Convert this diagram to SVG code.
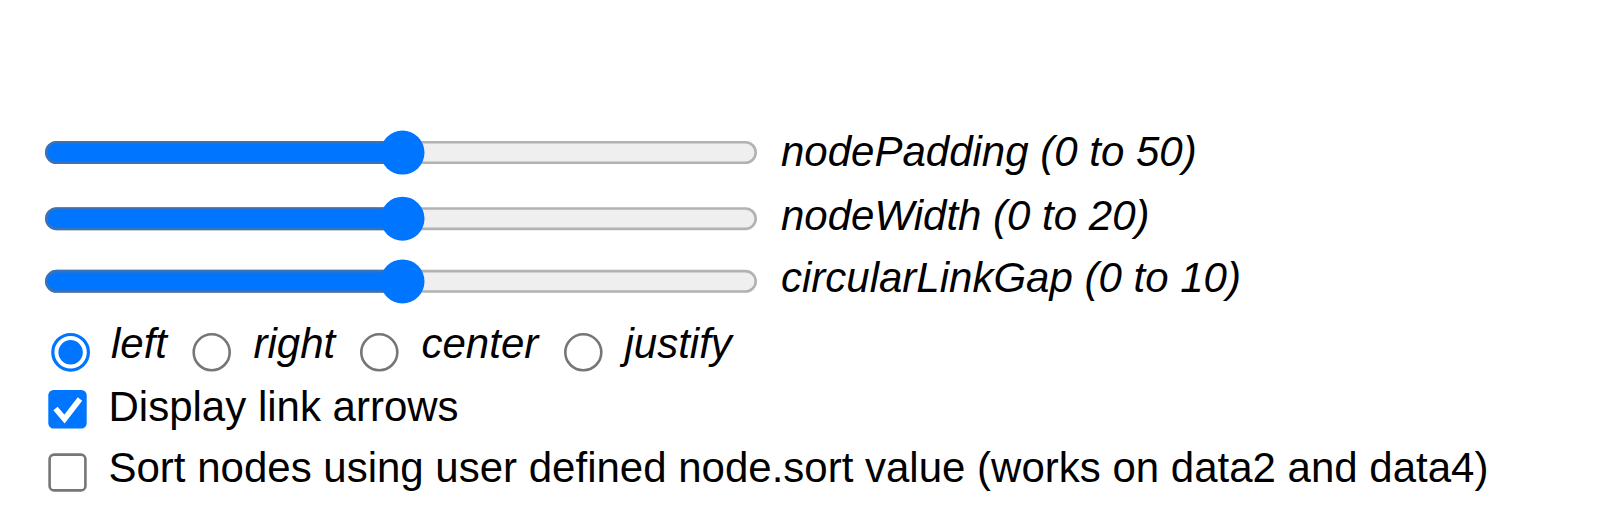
<svg xmlns="http://www.w3.org/2000/svg" width="1620" height="510" viewBox="0 0 1620 510">
  <style>
    .lbl { font-family: "Liberation Sans", Arial, sans-serif; font-size: 42px; fill: #000; }
    .it { font-style: italic; }
    .track { fill: #efefef; stroke: #b2b2b2; stroke-width: 2.6; }
    .fill { fill: #0075ff; stroke: #3a72b5; stroke-width: 2.6; }
    .thumb { fill: #0075ff; }
    .radio-off { fill: #fff; stroke: #767676; stroke-width: 2.6; }
    .radio-on { fill: #fff; stroke: #0075ff; stroke-width: 3.2; }
    .dot { fill: #0075ff; }
    .cb-off { fill: #fff; stroke: #767676; stroke-width: 2.6; }
    .cb-on { fill: #0075ff; }
    .tick { fill: none; stroke: #fff; stroke-width: 5.6; stroke-linecap: butt; stroke-linejoin: miter; }
  </style>
  <rect width="1620" height="510" fill="#fff"/>

  <g id="slider-nodePadding">
    <rect class="track" x="46.3" y="142.3" width="709.4" height="20.4" rx="10.2"/>
    <rect class="fill" x="46.3" y="142.3" width="370" height="20.4" rx="10.2"/>
    <circle class="thumb" cx="402.5" cy="152.6" r="22"/>
    <text class="lbl it" x="781" y="165.5">nodePadding (0 to 50)</text>
  </g>

  <g id="slider-nodeWidth">
    <rect class="track" x="46.3" y="208.5" width="709.4" height="20.4" rx="10.2"/>
    <rect class="fill" x="46.3" y="208.5" width="370" height="20.4" rx="10.2"/>
    <circle class="thumb" cx="402.5" cy="218.7" r="22"/>
    <text class="lbl it" x="781" y="229.5">nodeWidth (0 to 20)</text>
  </g>

  <g id="slider-circularLinkGap">
    <rect class="track" x="46.3" y="271.1" width="709.4" height="20.4" rx="10.2"/>
    <rect class="fill" x="46.3" y="271.1" width="370" height="20.4" rx="10.2"/>
    <circle class="thumb" cx="402.5" cy="281.4" r="22"/>
    <text class="lbl it" x="781" y="291.5">circularLinkGap (0 to 10)</text>
  </g>

  <g id="radio-left">
    <circle class="radio-on" cx="70.6" cy="352.3" r="17.8"/>
    <circle class="dot" cx="70.6" cy="352.3" r="12.2"/>
    <text class="lbl it" x="111" y="357.5">left</text>
  </g>
  <g id="radio-right">
    <circle class="radio-off" cx="211.7" cy="352.3" r="18"/>
    <text class="lbl it" x="253.5" y="357.5">right</text>
  </g>
  <g id="radio-center">
    <circle class="radio-off" cx="379.3" cy="352.3" r="18"/>
    <text class="lbl it" x="421.5" y="357.5">center</text>
  </g>
  <g id="radio-justify">
    <circle class="radio-off" cx="583.3" cy="352.3" r="18"/>
    <text class="lbl it" x="624.5" y="357.5">justify</text>
  </g>

  <g id="checkbox-arrows">
    <rect class="cb-on" x="48.3" y="390" width="38.4" height="38.4" rx="5.2"/>
    <polyline class="tick" points="55.5,408.5 64.5,419 80,399"/>
    <text class="lbl" x="108.5" y="421">Display link arrows</text>
  </g>

  <g id="checkbox-sort">
    <rect class="cb-off" x="49.6" y="454.6" width="35.8" height="35.8" rx="4.5"/>
    <text class="lbl" x="108.5" y="481.5">Sort nodes using user defined node.sort value (works on data2 and data4)</text>
  </g>

  <g id="connectors"></g>
</svg>
